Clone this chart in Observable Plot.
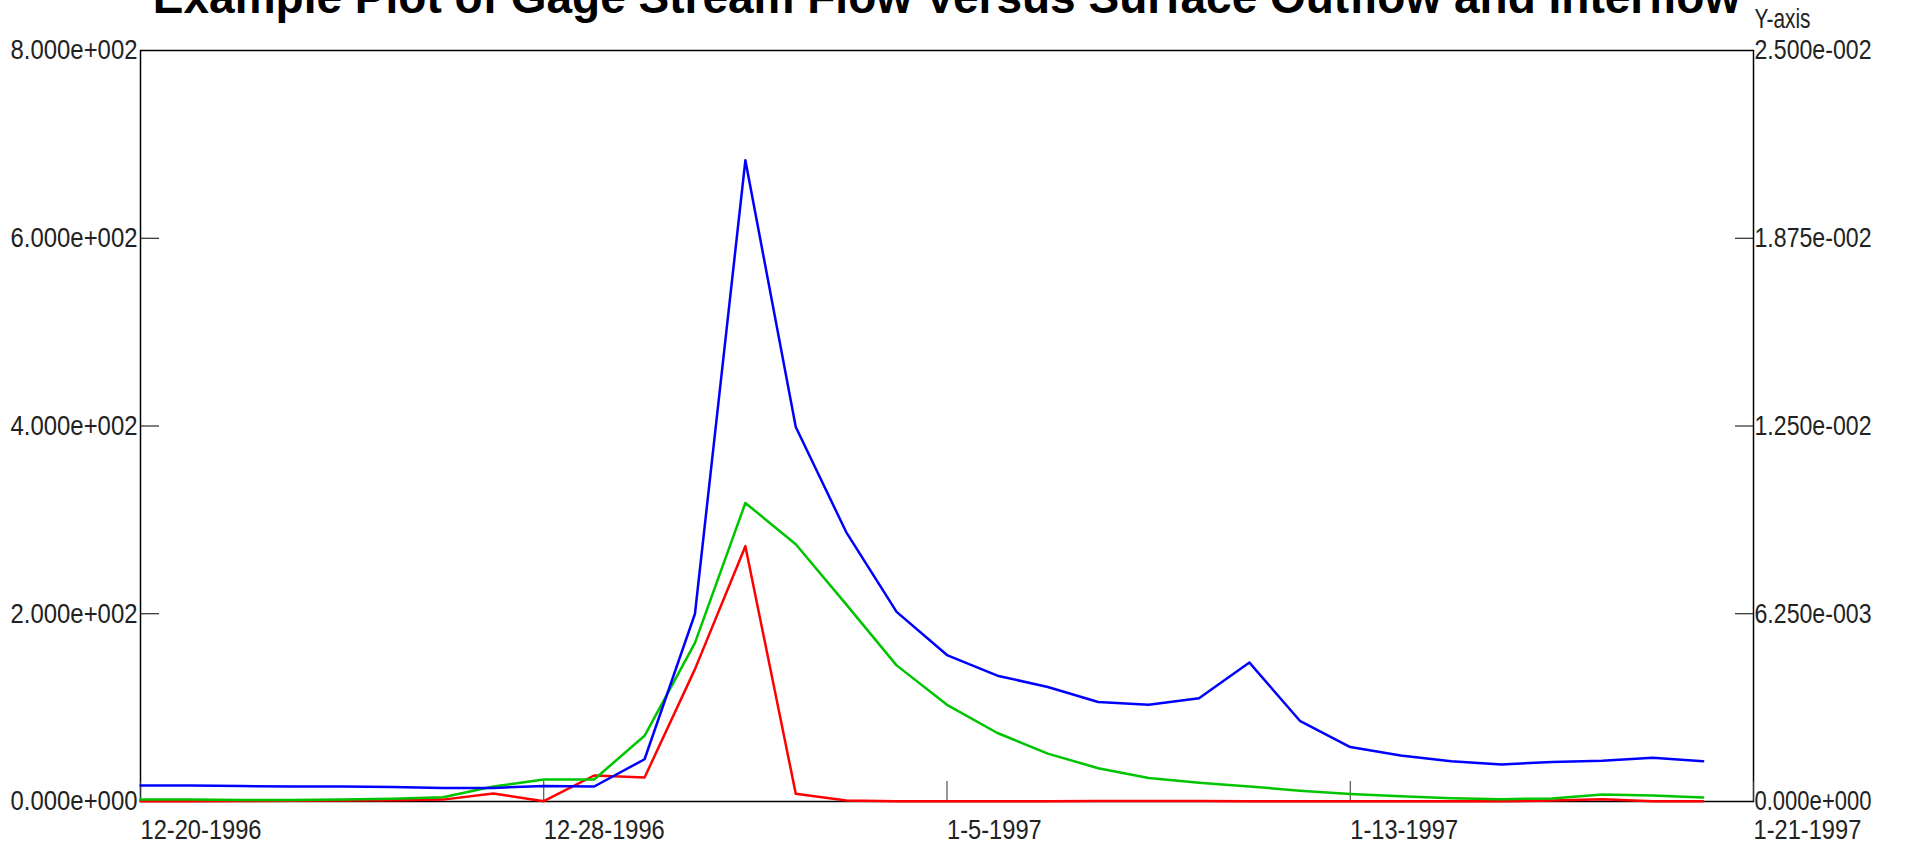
<!DOCTYPE html>
<html><head><meta charset="utf-8">
<script src="https://cdn.jsdelivr.net/npm/d3@7"></script>
<script src="https://cdn.jsdelivr.net/npm/@observablehq/plot@0.6"></script>
<style>
html,body{margin:0;padding:0;background:#fff;overflow:hidden;}
#wrap{position:relative;width:1906px;height:848px;}
#title{position:absolute;left:140px;width:1613px;top:-26px;text-align:center;font:bold 46px "Liberation Sans",Arial,sans-serif;line-height:46px;white-space:nowrap;color:#000;}
</style></head><body>
<div id="wrap"><div id="chart"></div><div id="title">Example Plot of Gage Stream Flow Versus Surface Outflow and Interflow</div></div>
<script>
const dates = ["1996-12-20","1996-12-21","1996-12-22","1996-12-23","1996-12-24","1996-12-25","1996-12-26","1996-12-27","1996-12-28","1996-12-29","1996-12-30","1996-12-31",
"1997-01-01","1997-01-02","1997-01-03","1997-01-04","1997-01-05","1997-01-06","1997-01-07","1997-01-08","1997-01-09","1997-01-10","1997-01-11","1997-01-12",
"1997-01-13","1997-01-14","1997-01-15","1997-01-16","1997-01-17","1997-01-18","1997-01-19","1997-01-20"];
const gageFlow = [17,17,16.5,16,16,15.5,14.5,14.5,16.5,16,45,200,683,399,287,202,156,134,122,106,103,110,148,86,58,49,43,39.5,42,43.5,46.5,43];
const interflow = [2,2,1.5,1.5,2,3,4.6,16,23.5,23.5,70,169,318,274,210,145,103,73,51,35.5,25,20,16,11.5,8,5.5,3.5,2.5,3.2,7.5,6.4,4.3];
const surfaceOutflow = [0.3,0.3,0.5,0.8,1,1.3,2,8.5,0.3,27.7,25.5,141,272,8.2,1,0.3,0.2,0.2,0.2,0.5,0.5,0.5,0.3,0.2,0.2,0.2,0.2,0.2,1,2.5,0.3,0.3];
const xTickDates = ["1996-12-20","1996-12-28","1997-01-05","1997-01-13","1997-01-21"];
const xTickLabels = ["12-20-1996","12-28-1996","1-5-1997","1-13-1997","1-21-1997"];
const leftTicks = [0,200,400,600,800];
const leftMax = 800;
const rightMax = 0.025;
const rightLabel = "Y-axis";

const parse = d3.utcParse("%Y-%m-%d");
const fmtDay = d3.utcFormat("%Y-%m-%d");
const rows = dates.map((d,i)=>({date: parse(d), gage: gageFlow[i], inter: interflow[i], surface: surfaceOutflow[i]}));
const xTicks = xTickDates.map(parse);
function fmtExp(v){
  const s = (+v).toExponential(3);
  const [m,e] = s.split("e");
  return m + "e" + e[0] + e.slice(1).padStart(3,"0");
}
const font = '"Liberation Sans",Arial,sans-serif';
const fs = 27.5;

const chart = Plot.plot({
  width:1906, height:848,
  marginTop:50, marginBottom:47, marginLeft:140, marginRight:153,
  style:{fontFamily:font, fontSize:fs+"px", color:"#222", background:"white"},
  x:{type:"utc", domain:[xTicks[0], xTicks[xTicks.length-1]]},
  y:{domain:[0,leftMax]},
  marks:[
    Plot.frame({stroke:"#000", strokeWidth:1.5}),
    Plot.axisX({ticks:xTicks, tickSize:20, dy:-20, fill:"none", label:null, stroke:"#333"}),
    Plot.axisX({ticks:xTicks, tickSize:0, tickPadding:18, fontSize:fs, tickFormat:d=>xTickLabels[xTickDates.indexOf(fmtDay(d))], textAnchor:"start", label:null}),
    Plot.axisY({anchor:"left", ticks:leftTicks, tickSize:19, dx:19, fill:"none", label:null, stroke:"#000"}),
    Plot.axisY({anchor:"left", ticks:leftTicks, tickSize:0, tickPadding:3, fontSize:fs, tickFormat:fmtExp, label:null}),
    Plot.axisY({anchor:"right", ticks:leftTicks, tickSize:19, dx:-19, fill:"none", label:null, stroke:"#000"}),
    Plot.axisY({anchor:"right", ticks:leftTicks, tickSize:0, tickPadding:1, fontSize:fs, tickFormat:d=>fmtExp(d/leftMax*rightMax), label:null}),
    Plot.text([rightLabel], {frameAnchor:"top-right", text:d=>d, fontSize:fs, textAnchor:"start", lineAnchor:"bottom", dx:1, dy:-23, fill:"#222"}),
    Plot.line(rows, {x:"date", y:"surface", stroke:"#ff0000", strokeWidth:2.5}),
    Plot.line(rows, {x:"date", y:"inter", stroke:"#00c400", strokeWidth:2.5}),
    Plot.line(rows, {x:"date", y:"gage", stroke:"#0000ff", strokeWidth:2.5})
  ]
});
document.getElementById("chart").appendChild(chart);

// condense the axis lettering to the widths of the reference's condensed face
function fitTo(texts, targetFor){
  texts.forEach(t => {
    t.style.fontSize = fs + "px";
    const w = t.getComputedTextLength();
    const target = targetFor(t, w);
    if (w > 0 && target) { t.setAttribute("textLength", target.toFixed(1)); t.setAttribute("lengthAdjust","spacingAndGlyphs"); }
  });
}
chart.querySelectorAll('g[aria-label="y-axis tick label"]').forEach(g => {
  const left = g.getAttribute("text-anchor") === "end";
  fitTo(g.querySelectorAll("text"), () => left ? 127 : 117);
});
chart.querySelectorAll('g[aria-label="x-axis tick label"]').forEach(g => {
  const texts = g.querySelectorAll("text");
  let k = 0.88;
  texts.forEach(t => { if (t.textContent === xTickLabels[0]) { t.style.fontSize = fs+"px"; const w = t.getComputedTextLength(); if (w > 0) k = 121 / w; } });
  fitTo(texts, (t, w) => w * k);
});
chart.querySelectorAll('g[aria-label="text"]').forEach(g => fitTo(g.querySelectorAll("text"), () => 56));
</script>
</body></html>
